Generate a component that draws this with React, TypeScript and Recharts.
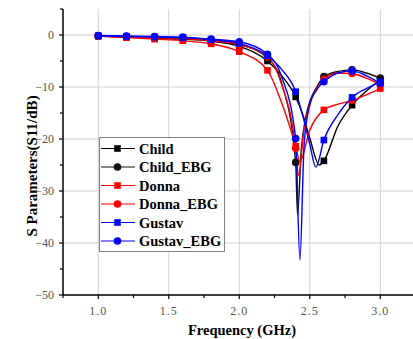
import React from 'react'
import {
  LineChart,
  Line,
  XAxis,
  YAxis,
  CartesianGrid,
  Label,
} from 'recharts'

// frequencies (GHz) where the markers sit
const MARKER_F = [1.0, 1.2, 1.4, 1.6, 1.8, 2.0, 2.2, 2.4, 2.6, 2.8, 3.0]

const X_TICKS = [0.75, 1.0, 1.25, 1.5, 1.75, 2.0, 2.25, 2.5, 2.75, 3.0]
const Y_TICKS = [-50, -45, -40, -35, -30, -25, -20, -15, -10, -5, 0, 5]

const CHILD_F = [1.0, 1.2, 1.4, 1.6, 1.8, 2.0, 2.2, 2.3, 2.4, 2.45, 2.5, 2.567, 2.6, 2.7, 2.8, 2.9, 3.0]
const CHILD_V = [-0.2, -0.4, -0.6, -0.8, -1.2, -2.2, -5.0, -7.8, -11.9, -15.3, -19.8, -25.0, -24.2, -17.5, -13.5, -10.8, -8.6]

const CHILD_EBG_F = [1.0, 1.2, 1.4, 1.6, 1.8, 2.0, 2.2, 2.3, 2.4, 2.413, 2.44, 2.47, 2.5, 2.55, 2.6, 2.7, 2.8, 2.9, 3.0]
const CHILD_EBG_V = [-0.2, -0.3, -0.4, -0.6, -1.0, -1.8, -4.4, -9.2, -24.5, -34.5, -22.0, -16.0, -12.8, -10.0, -8.0, -7.0, -6.7, -7.3, -8.3]

const DONNA_F = [1.0, 1.2, 1.4, 1.6, 1.8, 2.0, 2.2, 2.3, 2.4, 2.43, 2.5, 2.6, 2.7, 2.8, 2.9, 3.0]
const DONNA_V = [-0.2, -0.5, -0.8, -1.1, -1.7, -3.2, -6.8, -13.0, -21.4, -24.3, -18.3, -14.4, -13.3, -12.6, -11.5, -10.3]

const DONNA_EBG_F = [1.0, 1.2, 1.4, 1.6, 1.8, 2.0, 2.2, 2.3, 2.4, 2.42, 2.46, 2.5, 2.55, 2.6, 2.7, 2.8, 2.9, 3.0]
const DONNA_EBG_V = [-0.2, -0.4, -0.5, -0.7, -1.1, -1.9, -4.2, -9.5, -21.8, -27.0, -18.0, -13.2, -10.3, -8.5, -7.3, -7.4, -8.3, -9.5]

const GUSTAV_F = [1.0, 1.2, 1.4, 1.6, 1.8, 2.0, 2.2, 2.3, 2.4, 2.45, 2.5, 2.543, 2.6, 2.7, 2.8, 2.9, 3.0]
const GUSTAV_V = [-0.2, -0.3, -0.4, -0.5, -0.9, -1.6, -4.0, -6.6, -10.9, -15.5, -21.0, -25.4, -20.2, -15.3, -12.0, -10.3, -9.0]

const GUSTAV_EBG_F = [1.0, 1.2, 1.4, 1.6, 1.8, 2.0, 2.2, 2.3, 2.4, 2.43, 2.46, 2.5, 2.55, 2.6, 2.7, 2.8, 2.9, 3.0]
const GUSTAV_EBG_V = [-0.1, -0.2, -0.3, -0.4, -0.8, -1.3, -3.7, -8.0, -19.9, -43.3, -21.0, -13.5, -10.5, -9.0, -7.3, -6.9, -7.8, -9.3]

const zip = (f: number[], v: number[]) => f.map((x, i) => ({ f: x, v: v[i] }))

const SERIES = [
  { name: 'Child', data: zip(CHILD_F, CHILD_V), color: '#000000', shape: 'square' },
  { name: 'Child_EBG', data: zip(CHILD_EBG_F, CHILD_EBG_V), color: '#111111', shape: 'circle' },
  { name: 'Donna', data: zip(DONNA_F, DONNA_V), color: '#ff0000', shape: 'square' },
  { name: 'Donna_EBG', data: zip(DONNA_EBG_F, DONNA_EBG_V), color: '#ff0000', shape: 'circle' },
  { name: 'Gustav', data: zip(GUSTAV_F, GUSTAV_V), color: '#0000ff', shape: 'square' },
  { name: 'Gustav_EBG', data: zip(GUSTAV_EBG_F, GUSTAV_EBG_V), color: '#0000ff', shape: 'circle' },
]

const FONT = '"Liberation Serif", "DejaVu Serif", serif'
const TICK_COLOR = '#555'

const isMarker = (f: number) => MARKER_F.some((m) => Math.abs(m - f) < 1e-6)

function Marker({ cx, cy, color, shape }: { cx: number; cy: number; color: string; shape: string }) {
  if (shape === 'square') {
    return <rect x={cx - 3.3} y={cy - 3.3} width={6.6} height={6.6} fill={color} />
  }
  return <circle cx={cx} cy={cy} r={3.8} fill={color} />
}

function XTick(props: any) {
  const { x, y, payload } = props
  const major = Math.abs(payload.value * 2 - Math.round(payload.value * 2)) < 1e-6
  return (
    <g>
      <line x1={x} x2={x} y1={y} y2={y + (major ? 4 : 3)} stroke="#000" strokeWidth={1.2} />
      {major && (
        <text x={x} y={y + 20} textAnchor="middle" style={{ fontFamily: FONT, fontSize: 12, letterSpacing: 1 }} fill={TICK_COLOR}>
          {payload.value.toFixed(1)}
        </text>
      )}
    </g>
  )
}

function YTick(props: any) {
  const { x, y, payload } = props
  const v = payload.value
  const major = v % 10 === 0
  return (
    <g>
      <line x1={x} x2={x - (major ? 4 : 3)} y1={y} y2={y} stroke="#000" strokeWidth={1.2} />
      {major && (
        <text x={x - 9} y={y + 4} textAnchor="end" style={{ fontFamily: FONT, fontSize: 12 }} fill={TICK_COLOR}>
          {v < 0 ? `\u2212${Math.abs(v)}` : `${v}`}
        </text>
      )}
    </g>
  )
}

function ChartLegend() {
  const rowH = 18.5
  return (
    <div style={{ position: 'absolute', left: 99, top: 137 }}>
      <svg width={126} height={115} style={{ display: 'block' }}>
        <rect x={0.5} y={0.5} width={125} height={114} fill="#fff" stroke="#808080" strokeWidth={1} />
        {SERIES.map((s, i) => {
          const cy = 11.5 + i * rowH
          return (
            <g key={s.name}>
              <line x1={2} x2={36} y1={cy} y2={cy} stroke={s.color} strokeWidth={1.2} />
              <Marker cx={18.5} cy={cy} color={s.color} shape={s.shape} />
              <text x={40} y={cy + 5} style={{ fontFamily: FONT, fontWeight: 'bold', fontSize: 14.5 }} fill="#000">
                {s.name}
              </text>
            </g>
          )
        })}
      </svg>
    </div>
  )
}

export default function App() {
  return (
    <div style={{ position: 'absolute', left: 0, top: 0, width: 413, height: 339, background: '#fff' }}>
      <LineChart width={413} height={339} margin={{ top: 9, right: 0, left: 13, bottom: 14 }}>
        <CartesianGrid
          stroke="#d0d0d0"
          strokeWidth={1}
          verticalValues={[1.0, 1.5, 2.0, 2.5, 3.0]}
          horizontalValues={[0, -10, -20, -30, -40]}
        />
        <XAxis
          type="number"
          dataKey="f"
          domain={[0.75, 3.232]}
          ticks={X_TICKS}
          interval={0}
          allowDataOverflow
          axisLine={{ stroke: '#000', strokeWidth: 1.5 }}
          tickLine={false}
          tickSize={0}
          tickMargin={0}
          height={30}
          tick={<XTick />}
        >
          <Label
            content={() => (
              <text x={242} y={335} textAnchor="middle" style={{ fontFamily: FONT, fontWeight: 'bold', fontSize: 14.5 }} fill="#000">
                Frequency (GHz)
              </text>
            )}
          />
        </XAxis>
        <YAxis
          type="number"
          domain={[-50, 5]}
          ticks={Y_TICKS}
          interval={0}
          allowDataOverflow
          axisLine={{ stroke: '#000', strokeWidth: 1.5 }}
          tickLine={false}
          tickSize={0}
          tickMargin={0}
          width={50}
          tick={<YTick />}
        >
          <Label
            content={() => (
              <text
                x={32}
                y={166}
                transform="rotate(-90, 32, 166)"
                textAnchor="middle"
                dominantBaseline="central"
                style={{ fontFamily: FONT, fontWeight: 'bold', fontSize: 15 }}
                fill="#000"
              >
                S Parameters(S11/dB)
              </text>
            )}
          />
        </YAxis>
        {SERIES.map((s) => (
          <Line
            key={s.name}
            data={s.data}
            dataKey="v"
            name={s.name}
            type="monotone"
            stroke={s.color}
            strokeWidth={1.4}
            isAnimationActive={false}
            activeDot={false}
            dot={(p: any) =>
              isMarker(p.payload.f) ? (
                <Marker key={`${s.name}-${p.index}`} cx={p.cx} cy={p.cy} color={s.color} shape={s.shape} />
              ) : (
                <g key={`${s.name}-${p.index}`} />
              )
            }
          />
        ))}
      </LineChart>
      <ChartLegend />
    </div>
  )
}
